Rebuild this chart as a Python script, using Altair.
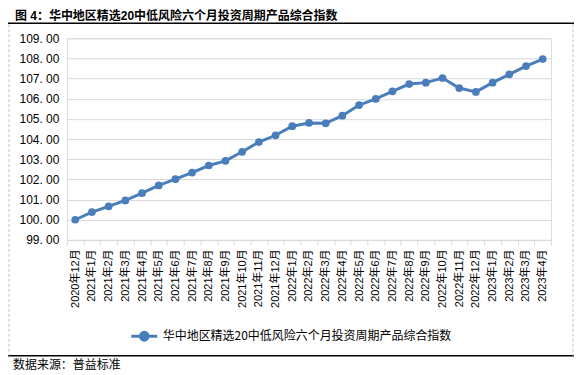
import altair as alt
import pandas as pd

months = ["2020年12月", "2021年1月", "2021年2月", "2021年3月", "2021年4月", "2021年5月",
          "2021年6月", "2021年7月", "2021年8月", "2021年9月", "2021年10月", "2021年11月",
          "2021年12月", "2022年1月", "2022年2月", "2022年3月", "2022年4月", "2022年5月",
          "2022年6月", "2022年7月", "2022年8月", "2022年9月", "2022年10月", "2022年11月",
          "2022年12月", "2023年1月", "2023年2月", "2023年3月", "2023年4月"]
values = [100.00, 100.38, 100.66, 100.96, 101.32, 101.70, 102.01, 102.34, 102.69, 102.92,
          103.37, 103.85, 104.19, 104.64, 104.80, 104.78, 105.16, 105.69, 105.99, 106.37,
          106.73, 106.80, 107.03, 106.53, 106.34, 106.80, 107.21, 107.62, 107.97]
series_name = "华中地区精选20中低风险六个月投资周期产品综合指数"
title_text = "图 4：华中地区精选20中低风险六个月投资周期产品综合指数"
source_text = "数据来源：普益标准"
y_ticks = [99, 100, 101, 102, 103, 104, 105, 106, 107, 108, 109]

df = pd.DataFrame({"month": months, "value": values, "series": [series_name] * len(months)})

FONT = "Liberation Sans, Noto Sans CJK SC"
CJK = "Noto Sans CJK SC"
BLUE = "#4a7ebb"
GRID = "#d9d9d9"

legend_path = "M-1,0L1,0M-0.3,0A0.3,0.3,0,1,0,0.3,0A0.3,0.3,0,1,0,-0.3,0Z"

x = alt.X("month:O", sort=months, title=None,
          scale=alt.Scale(type="band", paddingInner=0, paddingOuter=0),
          axis=alt.Axis(labelAngle=270, labelFontSize=11, labelColor="#000", labelFont=FONT,
                        tickBand="extent", tickColor=GRID, tickSize=5, domainColor=GRID,
                        grid=False, labelPadding=4))
y = alt.Y("value:Q", title=None,
          scale=alt.Scale(domain=[99, 109], nice=False, zero=False),
          axis=alt.Axis(values=y_ticks,
                        labelExpr="replace(format(datum.value, '.2f'), '.', '. ')",
                        domain=False, ticks=False, gridColor=GRID, labelPadding=8,
                        labelFontSize=12, labelFont=FONT, labelColor="#000"))

line = alt.Chart(df).mark_line(
    strokeWidth=3,
    point=alt.OverlayMarkDef(filled=True, size=60, color=BLUE, opacity=1)
).encode(
    x=x, y=y,
    color=alt.Color("series:N", scale=alt.Scale(range=[BLUE]),
                    legend=alt.Legend(orient="none", legendX=63, legendY=284, title=None,
                                      symbolType=legend_path, symbolSize=676,
                                      symbolStrokeWidth=3, symbolFillColor=BLUE,
                                      labelFontSize=12, labelFont=CJK, labelColor="#000",
                                      labelLimit=400))
)

title = alt.Chart(pd.DataFrame({"t": [title_text]})).mark_text(
    align="left", baseline="alphabetic", fontSize=12, fontWeight="bold", font=FONT, color="#000"
).encode(text="t:N", x=alt.value(-52), y=alt.value(-18.5))

source = alt.Chart(pd.DataFrame({"t": [source_text]})).mark_text(
    align="left", baseline="middle", fontSize=12, font=CJK, color="#000"
).encode(text="t:N", x=alt.value(-54), y=alt.value(327))

top_line = alt.Chart(pd.DataFrame({"a": [0]})).mark_rule(color="#000", strokeWidth=1.5).encode(
    x=alt.value(-59), x2=alt.value(508), y=alt.value(-15))
bottom_line = alt.Chart(pd.DataFrame({"a": [0]})).mark_rule(color="#000", strokeWidth=1.5).encode(
    x=alt.value(-59), x2=alt.value(508), y=alt.value(318))
left_dash = alt.Chart(pd.DataFrame({"a": [0]})).mark_rule(color="#bfbfbf", strokeWidth=1, strokeDash=[3, 2]).encode(
    x=alt.value(-58), y=alt.value(-14), y2=alt.value(318))
right_dash = alt.Chart(pd.DataFrame({"a": [0]})).mark_rule(color="#bfbfbf", strokeWidth=1, strokeDash=[3, 2]).encode(
    x=alt.value(507), y=alt.value(-14), y2=alt.value(318))

chart = alt.layer(line, title, source, top_line, bottom_line, left_dash, right_dash).properties(
    width=485, height=202,
    padding={"left": 59, "top": 30, "right": 23, "bottom": 135},
    autosize=alt.AutoSizeParams(type="none"),
).configure_view(stroke=None).configure(background="#ffffff")

chart.save("out.html", embed_options={"renderer": "svg", "actions": False})
